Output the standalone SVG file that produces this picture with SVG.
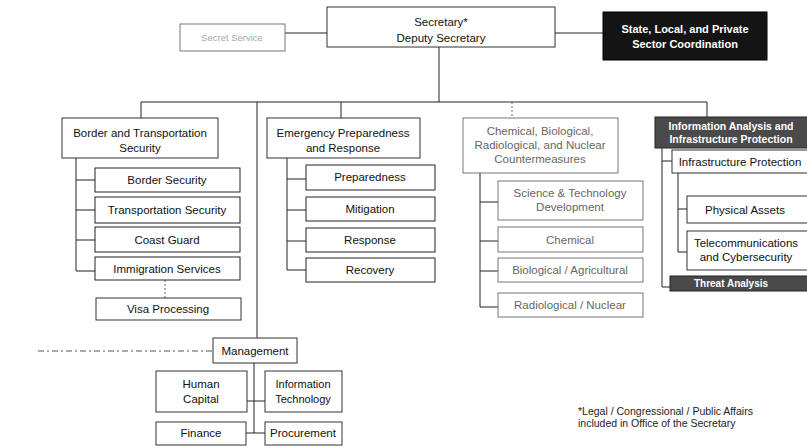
<svg xmlns="http://www.w3.org/2000/svg" width="807" height="448" viewBox="0 0 807 448">
<style>
  .bx{fill:#fff;stroke:#333;stroke-width:1}
  .sb{fill:#fff;stroke:#222;stroke-width:1}
  .fd{fill:#fff;stroke:#777;stroke-width:1}
  .dk{fill:#141414;stroke:#000;stroke-width:1}
  .gy{fill:#4a4a4a;stroke:#222;stroke-width:1}
  text{font-family:"Liberation Sans",Arial,sans-serif;font-size:11.5px;fill:#111;text-anchor:middle}
  .f{fill:#666}
  .w{fill:#fff;font-weight:bold;font-size:11px}
  .ln{stroke:#222;stroke-width:1;fill:none}
  .dt{stroke:#666;stroke-width:1;fill:none;stroke-dasharray:2 2}
  .ds{stroke:#555;stroke-width:1;fill:none;stroke-dasharray:6 3 2 3}
  .fn{text-anchor:start;font-size:10.5px;fill:#222}
</style>
<rect width="807" height="448" fill="#fff"/>
<g id="connectors">
  <path class="ln" d="M285 33H327M555 33H603M439 47V102M141 102H707M141 102V118M341 102V118M707 102V117M257 102V338"/>
  <path class="dt" d="M512 102V118"/>
  <path class="ln" d="M76 158V271M76 180H95M76 210H95M76 240H95M76 271H95"/>
  <path class="dt" d="M165 280V298"/>
  <path class="ln" d="M287 158V270M287 179H306M287 210H306M287 241H306M287 270H306"/>
  <path class="ln" d="M480 173V307M480 202H498M480 241H498M480 271H498M480 307H498"/>
  <path class="ln" d="M662 148V287M662 161H672M662 287H670M678 173V252M678 209H687M678 252H687"/>
  <path class="ds" d="M38 351H213"/>
  <path class="ln" d="M254 363V433M247 401H265"/>
  <path class="ln" stroke-width="2" d="M246 433H265"/>
</g>
<g id="secretary"><rect class="bx" x="327" y="7" width="228" height="40"/><text x="441" y="26">Secretary*</text><text x="441" y="42">Deputy Secretary</text></g>
<g id="secret-service"><rect class="fd" x="180" y="24" width="105" height="27"/><text x="232" y="41" style="fill:#aaa;font-size:9.5px">Secret Service</text></g>
<g id="state-local"><rect class="dk" x="603" y="12" width="164" height="48"/><text class="w" x="685" y="33">State, Local, and Private</text><text class="w" x="685" y="48">Sector Coordination</text></g>

<g id="bts"><rect class="bx" x="62" y="118" width="156" height="40"/><text x="140" y="137">Border and Transportation</text><text x="140" y="152">Security</text></g>
<g id="border-security"><rect class="sb" x="95" y="168" width="145" height="24"/><text x="167" y="184">Border Security</text></g>
<g id="transportation-security"><rect class="sb" x="95" y="197" width="145" height="26"/><text x="167" y="214">Transportation Security</text></g>
<g id="coast-guard"><rect class="sb" x="95" y="227" width="145" height="25"/><text x="167" y="244">Coast Guard</text></g>
<g id="immigration"><rect class="sb" x="95" y="257" width="145" height="23"/><text x="167" y="273">Immigration Services</text></g>
<g id="visa"><rect class="bx" x="96" y="298" width="145" height="22"/><text x="168" y="313">Visa Processing</text></g>

<g id="epr"><rect class="bx" x="267" y="118" width="153" height="40"/><text x="343" y="137">Emergency Preparedness</text><text x="343" y="152">and Response</text></g>
<g id="preparedness"><rect class="sb" x="306" y="165" width="129" height="25"/><text x="370" y="181">Preparedness</text></g>
<g id="mitigation"><rect class="sb" x="306" y="197" width="129" height="24"/><text x="370" y="213">Mitigation</text></g>
<g id="response"><rect class="sb" x="306" y="228" width="129" height="24"/><text x="370" y="244">Response</text></g>
<g id="recovery"><rect class="sb" x="306" y="258" width="129" height="24"/><text x="370" y="274">Recovery</text></g>

<g id="cbrn"><rect class="fd" x="463" y="118" width="155" height="55"/><text class="f" x="540" y="135">Chemical, Biological,</text><text class="f" x="540" y="149">Radiological, and Nuclear</text><text class="f" x="540" y="163">Countermeasures</text></g>
<g id="st-dev"><rect class="fd" x="498" y="181" width="145" height="39"/><text class="f" x="570" y="197">Science &amp; Technology</text><text class="f" x="570" y="211">Development</text></g>
<g id="chemical"><rect class="fd" x="498" y="227" width="145" height="25"/><text class="f" x="570" y="244">Chemical</text></g>
<g id="biological"><rect class="fd" x="498" y="258" width="145" height="24"/><text class="f" x="570" y="274">Biological / Agricultural</text></g>
<g id="radiological"><rect class="fd" x="498" y="293" width="145" height="24"/><text class="f" x="570" y="309">Radiological / Nuclear</text></g>

<g id="iaip"><rect class="gy" x="655" y="117" width="160" height="31"/><text class="w" x="731" y="130" style="font-size:10.5px">Information Analysis and</text><text class="w" x="731" y="143" style="font-size:10.5px">Infrastructure Protection</text></g>
<g id="infra-protection"><rect class="bx" x="672" y="150" width="140" height="23"/><text x="740" y="166">Infrastructure Protection</text></g>
<g id="physical-assets"><rect class="bx" x="687" y="196" width="125" height="27"/><text x="745" y="214">Physical Assets</text></g>
<g id="telecom"><rect class="bx" x="687" y="231" width="125" height="39"/><text x="746" y="247">Telecommunications</text><text x="746" y="261">and Cybersecurity</text></g>
<g id="threat"><rect class="gy" x="670" y="276" width="145" height="15"/><text class="w" x="731" y="287" style="font-size:10px">Threat Analysis</text></g>

<g id="management"><rect class="bx" x="213" y="338" width="84" height="25"/><text x="255" y="355">Management</text></g>
<g id="human-capital"><rect class="bx" x="156" y="371" width="91" height="41"/><text x="201" y="388">Human</text><text x="201" y="403">Capital</text></g>
<g id="it"><rect class="bx" x="265" y="371" width="77" height="41"/><text x="303" y="388" style="font-size:11px">Information</text><text x="303" y="403" style="font-size:11px">Technology</text></g>
<g id="finance"><rect class="bx" x="156" y="422" width="90" height="23"/><text x="201" y="437">Finance</text></g>
<g id="procurement"><rect class="bx" x="265" y="422" width="77" height="23"/><text x="303" y="437">Procurement</text></g>

<text class="fn" x="578" y="415">*Legal / Congressional / Public Affairs</text>
<text class="fn" x="578" y="427">included in Office of the Secretary</text>
</svg>
